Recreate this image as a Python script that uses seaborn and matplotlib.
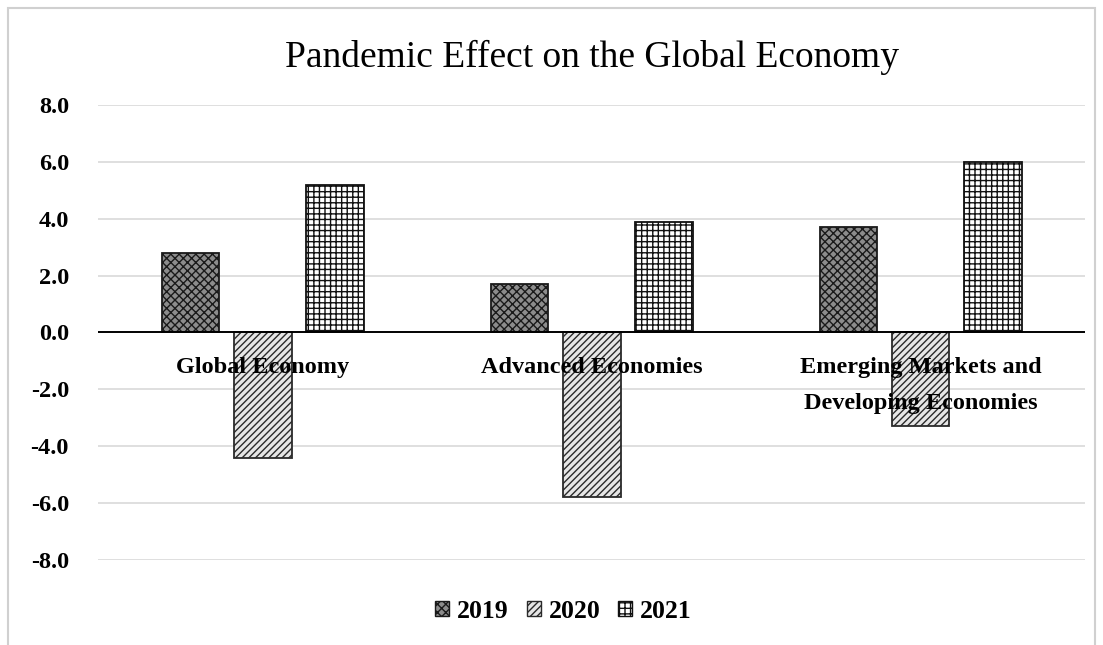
import matplotlib
matplotlib.use("Agg")
import matplotlib.pyplot as plt
import seaborn as sns
import pandas as pd
from matplotlib.patches import Rectangle

# GDP growth (%) by economy group
categories = ["Global Economy", "Advanced Economies",
              "Emerging Markets and\nDeveloping Economies"]
years = ["2019", "2020", "2021"]
growth_2019 = [2.8, 1.7, 3.7]
growth_2020 = [-4.4, -5.8, -3.3]
growth_2021 = [5.2, 3.9, 6.0]
y_ticks = [-8, -6, -4, -2, 0, 2, 4, 6, 8]

rows = []
for year, vals in zip(years, [growth_2019, growth_2020, growth_2021]):
    for cat, v in zip(categories, vals):
        rows.append({"category": cat, "year": year, "growth": v})
df = pd.DataFrame(rows)

sns.set_theme(style="white")
plt.rcParams["font.family"] = ["Liberation Serif", "DejaVu Serif"]
plt.rcParams["hatch.linewidth"] = 1.0
plt.rcParams["text.color"] = "black"
plt.rcParams["ytick.color"] = "black"

fig = plt.figure(figsize=(11.03, 6.45), dpi=100)
ax = fig.add_axes([0.0889, 0.1318, 0.8948, 0.7054])

styles = {
    "2019": dict(face="#8c8c8c", hatch="xxxx", edge="#1a1a1a"),
    "2020": dict(face="#e6e6e6", hatch="/////", edge="#2a2a2a"),
    "2021": dict(face="#ffffff", hatch="+++", edge="#111111"),
}

sns.barplot(data=df, x="category", y="growth", hue="year", hue_order=years,
            order=categories, width=0.657, gap=0.196, ax=ax,
            legend=False, errorbar=None, zorder=2)

for year, cont in zip(years, ax.containers):
    st = styles[year]
    for bar in cont:
        bar.set_facecolor(st["face"])
        bar.set_hatch(st["hatch"])
        bar.set_edgecolor(st["edge"])
        bar.set_linewidth(1.3)

ax.set_ylim(-8, 8)
ax.set_xlim(-0.5, 2.5)
ax.set_yticks(y_ticks)
ax.set_yticklabels([f"{t:.1f}" for t in y_ticks], fontsize=17.5,
                   fontweight="bold", color="black")
ax.tick_params(axis="y", length=0, pad=21)
ax.set_xticks([])
ax.set_xlabel("")
ax.set_ylabel("")
for s in ax.spines.values():
    s.set_visible(False)
ax.yaxis.grid(True, color="#d9d9d9", linewidth=1.2, zorder=0)
ax.set_axisbelow(True)
ax.axhline(0, color="black", linewidth=1.4, zorder=3)

for i, cat in enumerate(categories):
    ax.text(i, -0.87, cat, ha="center", va="top", fontsize=17.5,
            fontweight="bold", linespacing=1.95, color="black", zorder=4)

# title centred over the plotting area
ax.text(0.5, 1 - 57 / 645, "Pandemic Effect on the Global Economy",
        transform=matplotlib.transforms.blended_transform_factory(
            ax.transAxes, fig.transFigure),
        ha="center", va="center", fontsize=27, color="black")

handles = [Rectangle((0, 0), 1, 1, facecolor=styles[y]["face"],
                     hatch=styles[y]["hatch"], edgecolor=styles[y]["edge"])
           for y in years]
leg = fig.legend(handles, years, loc="center", ncol=3,
                 bbox_to_anchor=(0.511, 1 - 611 / 645), frameon=False,
                 handlelength=0.55, handleheight=0.55, handletextpad=0.3,
                 columnspacing=0.7, prop={"size": 18.5, "weight": "bold"})

# outer chart frame
fig.patches.append(Rectangle((8 / 1103, -0.01), 1 - 16 / 1103, 1 - 8 / 645 + 0.01,
                             transform=fig.transFigure, fill=False,
                             edgecolor="#d0d0d0", linewidth=1.5))

fig.savefig("out.png", dpi=100)
